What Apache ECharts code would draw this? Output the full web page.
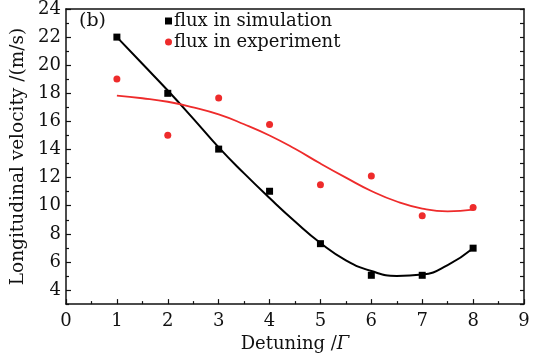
<!DOCTYPE html>
<html>
<head>
<meta charset="utf-8">
<script src="https://cdn.jsdelivr.net/npm/echarts@6/dist/echarts.min.js"></script>
<style>
  html, body { margin: 0; padding: 0; background: #fff; }
  #chart { width: 543px; height: 358px; }
</style>
</head>
<body>
<div id="chart"></div>
<script>
// measured points
const detuning = [1, 2, 3, 4, 5, 6, 7, 8];
const fluxSimulation = [22.0, 18.0, 14.03, 11.03, 7.3, 5.05, 5.05, 6.98];
const fluxExperiment = [19.02, 15.02, 17.66, 15.78, 11.49, 12.12, 9.28, 9.88];

// fitted curves, every 0.5
const fitX = [1, 1.5, 2, 2.5, 3, 3.5, 4, 4.5, 5, 5.5, 6, 6.5, 7, 7.5, 8];
const fitSimulation = [22.0, 20.1, 18.2, 16.2, 14.15, 12.3, 10.55, 8.88, 7.35, 6.12, 5.35, 5.0, 5.1, 5.78, 6.98];
const fitExperiment = [17.83, 17.65, 17.4, 17.0, 16.5, 15.8, 15.0, 14.05, 13.0, 12.0, 11.05, 10.3, 9.8, 9.6, 9.72];

const yMajor = [4, 6, 8, 10, 12, 14, 16, 18, 20, 22, 24];
const yMinor = [3, 5, 7, 9, 11, 13, 15, 17, 19, 21, 23];

const FONT = 'DejaVu Serif';
const INK = '#111';
const RED = '#ee2b2b';
const pairs = (xs, ys) => xs.map((x, i) => [x, ys[i]]);

function xAx(pos, main) {
  return {
    type: 'value', position: pos, min: 0, max: 9, interval: 1,
    axisLine: { show: true, onZero: false, lineStyle: { color: INK, width: 1.5 } },
    axisTick: { show: main, inside: true, length: 5, lineStyle: { color: INK, width: 1.2 } },
    minorTick: { show: main, splitNumber: 2, length: 3, lineStyle: { color: INK, width: 1.2 } },
    axisLabel: { show: main, color: INK, fontFamily: FONT, fontSize: 18, margin: 8 },
    splitLine: { show: false }
  };
}

function yAx(pos, ticks, len, showLine, showLabel) {
  return {
    type: 'value', position: pos, min: 3, max: 24,
    axisLine: { show: showLine, onZero: false, lineStyle: { color: INK, width: 1.5 } },
    axisTick: { show: true, inside: true, length: len, customValues: ticks, lineStyle: { color: INK, width: 1.2 } },
    axisLabel: { show: showLabel, customValues: ticks, color: INK, fontFamily: FONT, fontSize: 18, margin: 5 },
    splitLine: { show: false }
  };
}

const xBottom = xAx('bottom', true);
xBottom.name = 'Detuning /{i|Γ}';
xBottom.nameLocation = 'middle';
xBottom.nameGap = 26;
xBottom.nameTextStyle = {
  color: INK, fontFamily: FONT, fontSize: 18,
  rich: { i: { fontStyle: 'italic', fontFamily: FONT, fontSize: 18, color: INK } }
};

const yLeft = yAx('left', yMajor, 5, true, true);
yLeft.name = 'Longitudinal velocity /(m/s)';
yLeft.nameLocation = 'middle';
yLeft.nameGap = 37;
yLeft.nameTextStyle = { color: INK, fontFamily: FONT, fontSize: 18.5 };

const chart = echarts.init(document.getElementById('chart'));
chart.setOption({
  backgroundColor: '#fff',
  animation: false,
  grid: { left: 66, right: 19, top: 9, bottom: 45 },
  xAxis: [xBottom, xAx('top', false)],
  yAxis: [
    yLeft,
    yAx('left', yMinor, 3, false, false),
    yAx('right', yMajor, 4, true, false),
    yAx('right', yMinor, 4, false, false)
  ],
  legend: {
    orient: 'vertical', left: 165, top: 12, itemGap: 3,
    itemWidth: 7, itemHeight: 7, padding: 0,
    textStyle: { color: INK, fontFamily: FONT, fontSize: 18, padding: [0, 0, 0, -3] },
    data: [
      { name: 'flux in simulation', icon: 'rect', itemStyle: { color: '#000' } },
      { name: 'flux in experiment', icon: 'circle', itemStyle: { color: RED } }
    ]
  },
  graphic: [{
    type: 'text', left: 79, top: 12,
    style: { text: '(b)', fill: INK, font: '19px "DejaVu Serif"' }
  }],
  series: [
    {
      name: 'flux in simulation', type: 'scatter', symbol: 'rect', symbolSize: 7,
      itemStyle: { color: '#000', opacity: 1 }, data: pairs(detuning, fluxSimulation), z: 3
    },
    {
      name: 'flux in experiment', type: 'scatter', symbol: 'circle', symbolSize: 7,
      itemStyle: { color: RED, opacity: 1 }, data: pairs(detuning, fluxExperiment), z: 3
    },
    {
      name: 'fit simulation', type: 'line', smooth: 0.5, showSymbol: false,
      lineStyle: { color: '#000', width: 2 }, data: pairs(fitX, fitSimulation), z: 2
    },
    {
      name: 'fit experiment', type: 'line', smooth: 0.5, showSymbol: false,
      lineStyle: { color: RED, width: 1.8 }, data: pairs(fitX, fitExperiment), z: 2
    }
  ]
});
</script>
</body>
</html>
